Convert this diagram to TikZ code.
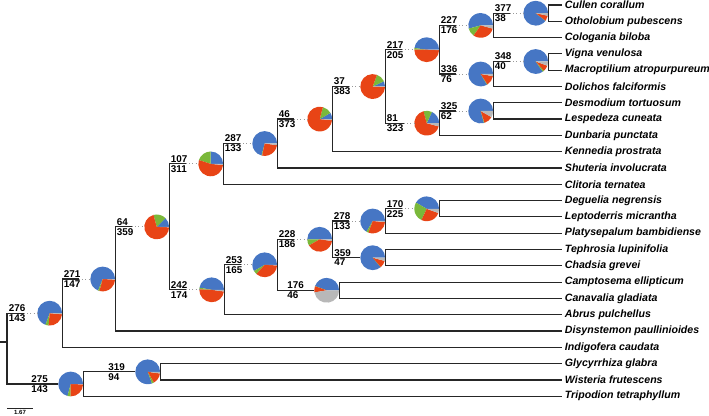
\documentclass[tikz,border=0pt]{standalone}
\usepackage{fontspec}
\setmainfont{Liberation Sans}
\definecolor{cblue}{RGB}{70,118,196}
\definecolor{cred}{RGB}{232,68,22}
\definecolor{cgreen}{RGB}{122,184,58}
\definecolor{cgray}{RGB}{184,184,184}
\newcommand\pr{9.3pt}
\newcommand\piefill[4]{\fill[#4] (#1) -- ++(#2:\pr) arc[start angle=#2,end angle=#3,radius=\pr] -- cycle;}
\newcommand\mypie[4]{\piefill{#1.center}{0}{#2}{cblue}\piefill{#1.center}{#2}{#3}{cgreen}\piefill{#1.center}{#3}{#4}{cred}\piefill{#1.center}{#4}{360}{cgray}}
\newcommand\lab[5]{\node[num,anchor=south west] (#1-top) at (#2,#3) {#4};\node[num,anchor=north west] (#1-bot) at (#2,#3) {#5};}
\tikzset{
  tree/.style={line width=0.9pt, black!85},
  dots/.style={gray!80, line width=0.7pt, dash pattern=on 0.8pt off 1.6pt},
  tip/.style={anchor=west, inner sep=2pt, font=\fontsize{7.95}{9}\selectfont\bfseries\itshape},
  num/.style={inner sep=0.9pt, font=\fontsize{7.4}{8}\selectfont\bfseries},
  pienode/.style={circle, minimum size=18.45pt, inner sep=0pt}
}
\begin{document}
\begin{tikzpicture}[x=0.75pt,y=-0.75pt]
\useasboundingbox (0,0) rectangle (709,416);
% tips
\node[tip] (t0) at (562,5) {Cullen corallum};
\node[tip] (t1) at (562,21.3) {Otholobium pubescens};
\node[tip] (t2) at (562,37.6) {Cologania biloba};
\node[tip] (t3) at (562,53.9) {Vigna venulosa};
\node[tip] (t4) at (562,70.2) {Macroptilium atropurpureum};
\node[tip] (t5) at (562,86.5) {Dolichos falciformis};
\node[tip] (t6) at (562,102.8) {Desmodium tortuosum};
\node[tip] (t7) at (562,119.1) {Lespedeza cuneata};
\node[tip] (t8) at (562,135.4) {Dunbaria punctata};
\node[tip] (t9) at (562,151.7) {Kennedia prostrata};
\node[tip] (t10) at (562,168) {Shuteria involucrata};
\node[tip] (t11) at (562,184.3) {Clitoria ternatea};
\node[tip] (t12) at (562,200.6) {Deguelia negrensis};
\node[tip] (t13) at (562,216.9) {Leptoderris micrantha};
\node[tip] (t14) at (562,233.2) {Platysepalum bambidiense};
\node[tip] (t15) at (562,249.5) {Tephrosia lupinifolia};
\node[tip] (t16) at (562,265.8) {Chadsia grevei};
\node[tip] (t17) at (562,282.1) {Camptosema ellipticum};
\node[tip] (t18) at (562,298.4) {Canavalia gladiata};
\node[tip] (t19) at (562,314.7) {Abrus pulchellus};
\node[tip] (t20) at (562,331) {Disynstemon paullinioides};
\node[tip] (t21) at (562,347.3) {Indigofera caudata};
\node[tip] (t22) at (562,363.6) {Glycyrrhiza glabra};
\node[tip] (t23) at (562,379.9) {Wisteria frutescens};
\node[tip] (t24) at (562,396.2) {Tripodion tetraphyllum};
% pie nodes
\node[pienode] (pA) at (49.7,313.2) {};
\node[pienode] (pB) at (70.7,384) {};
\node[pienode] (pC) at (147.7,371.8) {};
\node[pienode] (pD) at (102.7,279) {};
\node[pienode] (pE) at (156.7,226.9) {};
\node[pienode] (pF) at (210.7,163.9) {};
\node[pienode] (pG) at (211.7,289.8) {};
\node[pienode] (pH) at (264.7,143.5) {};
\node[pienode] (pI) at (319.7,119.1) {};
\node[pienode] (pJ) at (372.7,86.5) {};
\node[pienode] (pK) at (426.7,49.7) {};
\node[pienode] (pL) at (426.7,123.2) {};
\node[pienode] (pM) at (480.7,25.4) {};
\node[pienode] (pN) at (480.7,74) {};
\node[pienode] (pO) at (535.7,13.2) {};
\node[pienode] (pW) at (535.7,61.5) {};
\node[pienode] (pV) at (480.7,111) {};
\node[pienode] (pP) at (264.7,264.8) {};
\node[pienode] (pQ) at (319.7,239.3) {};
\node[pienode] (pR) at (326.7,290.3) {};
\node[pienode] (pS) at (372.7,221) {};
\node[pienode] (pT) at (372.7,257.7) {};
\node[pienode] (pU) at (426.7,208.8) {};
% pies: blue end, green end, red end (rest gray)
\mypie{pA}{250}{265}{355}
\mypie{pB}{255}{270}{358}
\mypie{pC}{290}{300}{352}
\mypie{pD}{248}{255}{357}
\mypie{pE}{45}{105}{358}
\mypie{pF}{90}{162}{355}
\mypie{pG}{170}{178}{352}
\mypie{pH}{255}{258}{352}
\mypie{pI}{30}{75}{355}
\mypie{pJ}{25}{70}{358}
\mypie{pK}{172}{180}{358}
\mypie{pL}{65}{105}{345}
\mypie{pM}{195}{235}{345}
\mypie{pN}{300}{303}{350}
\mypie{pO}{322}{323}{348}
\mypie{pW}{305}{312}{340}
\mypie{pV}{285}{288}{330}
\mypie{pP}{210}{228}{357}
\mypie{pQ}{180}{210}{352}
\mypie{pR}{160}{161}{190}
\mypie{pS}{240}{250}{355}
\mypie{pT}{310}{311}{345}
\mypie{pU}{150}{245}{340}
% coordinates
\coordinate (rootstub) at (0,342);
\coordinate (root) at (7,342);
\coordinate (sA) at (24,313.2);
\coordinate (sD) at (79,279);
\coordinate (sE) at (132,226.9);
\coordinate (sF) at (186,163.9);
\coordinate (sG) at (186,289.8);
\coordinate (sH) at (240,143.5);
\coordinate (sI) at (294,119.1);
\coordinate (sJ) at (349,86.5);
\coordinate (sK) at (402,49.7);
\coordinate (sL) at (404,123.2);
\coordinate (sM) at (456,25.4);
\coordinate (sN) at (456,74);
\coordinate (sV) at (456,111);
\coordinate (sO) at (510,13.2);
\coordinate (sW) at (510,61.5);
\coordinate (sP) at (241,264.8);
\coordinate (sQ) at (294,239.3);
\coordinate (sS) at (349,221);
\coordinate (sU) at (402,208.8);
% dotted parts
\foreach \n in {A,D,E,F,G,H,I,J,K,L,M,N,V,O,W,P,Q,S,U} {\draw[dots] (s\n) -- (p\n.west);}
% tree
\draw[tree] (rootstub) -- (root);
\draw[tree] (root) |- (sA);
\draw[tree] (root) |- (pB.west);
\draw[tree] (pA.east) |- (sD);
\draw[tree] (pA.east) |- (t21.west);
\draw[tree] (pB.east) |- (pC.west);
\draw[tree] (pB.east) |- (t24.west);
\draw[tree] (pC.east) |- (t22.west);
\draw[tree] (pC.east) |- (t23.west);
\draw[tree] (pD.east) |- (sE);
\draw[tree] (pD.east) |- (t20.west);
\draw[tree] (pE.east) |- (sF);
\draw[tree] (pE.east) |- (sG);
\draw[tree] (pF.east) |- (sH);
\draw[tree] (pF.east) |- (t11.west);
\draw[tree] (pG.east) |- (sP);
\draw[tree] (pG.east) |- (t19.west);
\draw[tree] (pH.east) |- (sI);
\draw[tree] (pH.east) |- (t10.west);
\draw[tree] (pI.east) |- (sJ);
\draw[tree] (pI.east) |- (t9.west);
\draw[tree] (pJ.east) |- (sK);
\draw[tree] (pJ.east) |- (sL);
\draw[tree] (pK.east) |- (sM);
\draw[tree] (pK.east) |- (sN);
\draw[tree] (pL.east) |- (sV);
\draw[tree] (pL.east) |- (t8.west);
\draw[tree] (pM.east) |- (sO);
\draw[tree] (pM.east) |- (t2.west);
\draw[tree] (pN.east) |- (sW);
\draw[tree] (pN.east) |- (t5.west);
\draw[tree] (pO.east) |- (t0.west);
\draw[tree] (pO.east) |- (t1.west);
\draw[tree] (pW.east) |- (t3.west);
\draw[tree] (pW.east) |- (t4.west);
\draw[tree] (pV.east) |- (t6.west);
\draw[tree] (pV.east) |- (t7.west);
\draw[tree] (pP.east) |- (sQ);
\draw[tree] (pP.east) |- (pR.west);
\draw[tree] (pQ.east) |- (sS);
\draw[tree] (pQ.east) |- (pT.west);
\draw[tree] (pR.east) |- (t17.west);
\draw[tree] (pR.east) |- (t18.west);
\draw[tree] (pS.east) |- (sU);
\draw[tree] (pS.east) |- (t14.west);
\draw[tree] (pT.east) |- (t15.west);
\draw[tree] (pT.east) |- (t16.west);
\draw[tree] (pU.east) |- (t12.west);
\draw[tree] (pU.east) |- (t13.west);
% labels
\lab{lA}{7.5}{313.2}{276}{143}
\lab{lB}{30}{384}{275}{143}
\lab{lC}{107}{371.8}{319}{94}
\lab{lD}{62.5}{279}{271}{147}
\lab{lE}{115.5}{226.9}{64}{359}
\lab{lF}{169.5}{163.9}{107}{311}
\lab{lG}{169.5}{289.8}{242}{174}
\lab{lH}{223.5}{143.5}{287}{133}
\lab{lI}{277.5}{119.1}{46}{373}
\lab{lJ}{332.5}{86.5}{37}{383}
\lab{lK}{385.5}{49.7}{217}{205}
\lab{lL}{385.5}{123.2}{81}{323}
\lab{lM}{439.5}{25.4}{227}{176}
\lab{lN}{439.5}{74}{336}{76}
\lab{lV}{439.5}{111}{325}{62}
\lab{lO}{493.5}{13.2}{377}{38}
\lab{lW}{493.5}{61.5}{348}{40}
\lab{lP}{224.5}{264.8}{253}{165}
\lab{lQ}{277.5}{239.3}{228}{186}
\lab{lR}{286}{290.3}{176}{46}
\lab{lS}{332.5}{221}{278}{133}
\lab{lT}{333}{257.7}{359}{47}
\lab{lU}{385.5}{208.8}{170}{225}
% scale bar
\coordinate (sb1) at (7,408);
\coordinate (sb2) at (33,408);
\draw[black!85, line width=0.7pt] (sb1) -- (sb2);
\node[inner sep=0.5pt, anchor=north, font=\fontsize{4.5}{5}\selectfont\bfseries] (sbl) at (20,409.5) {1.67};
\end{tikzpicture}
\end{document}
